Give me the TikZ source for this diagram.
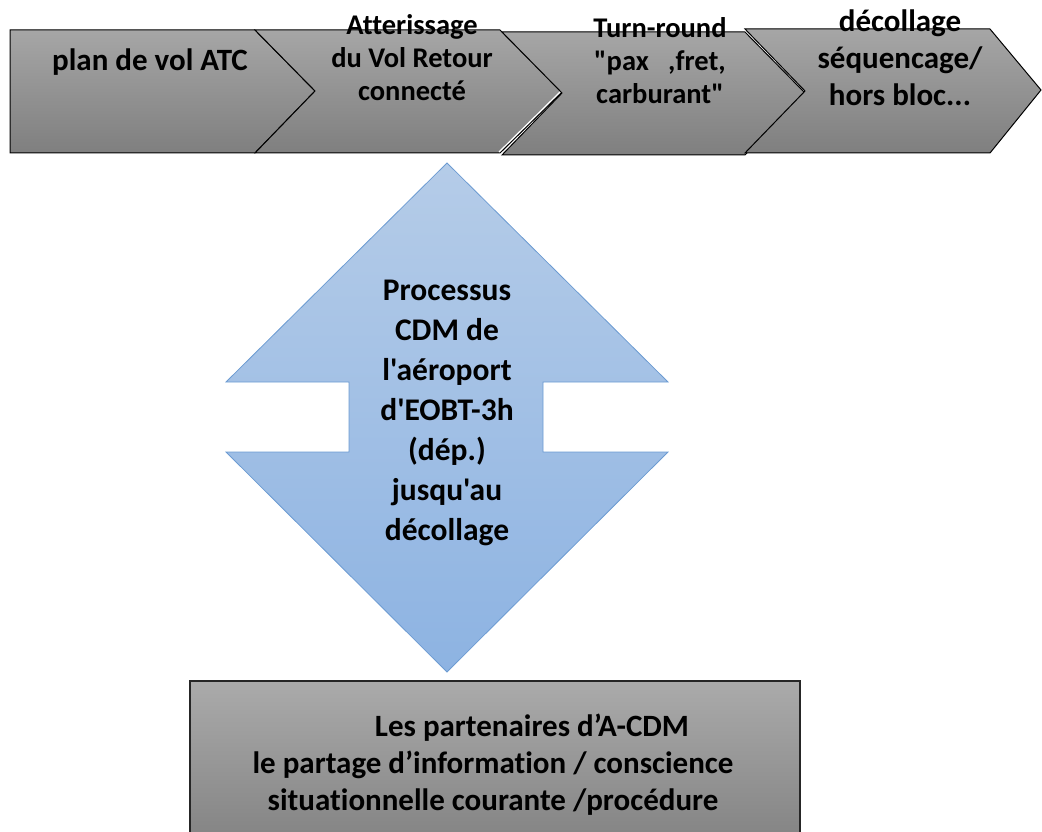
\documentclass[tikz,border=0pt]{standalone}
\usepackage{fontspec}
\setmainfont{Carlito}[Ligatures={TeXOff,CommonOff}]
\begin{document}
\begin{tikzpicture}[x=1pt,y=-1pt,
  chevron/.style={draw=black, line width=1pt, top color=graytop, bottom color=graybot},
  arrowshape/.style={draw=bluedge, line width=0.8pt, top color=bluetop, bottom color=bluebot},
  stagetext/.style={align=center, font=\bfseries\fontsize{28.5}{33}\selectfont, inner sep=0pt},
  bigtext/.style={align=center, font=\bfseries\fontsize{31}{37}\selectfont, inner sep=0pt},
  midtext/.style={align=center, font=\bfseries\fontsize{31.5}{40}\selectfont, inner sep=0pt}]
\definecolor{graytop}{HTML}{A6A6A6}
\definecolor{graybot}{HTML}{7F7F7F}
\definecolor{bluetop}{HTML}{B5CCE8}
\definecolor{bluebot}{HTML}{8DB3E2}
\definecolor{bluedge}{HTML}{6C9BD2}
\useasboundingbox (0,0) rectangle (1042,832);
\clip (0,0) rectangle (1042,832);

% process chain along the top
\path[chevron] (10,30) -- (255,30) -- (315,91) -- (255,153) -- (10,153) -- cycle;
\path[chevron] (255,30) -- (500,30) -- (562,92) -- (500,153) -- (255,153) -- (315,91) -- cycle;
\path[chevron] (502,32) -- (745,32) -- (805,93) -- (745,155) -- (502,155) -- (562,93) -- cycle;
\draw[white, line width=1.2pt] (499,152) -- (560,92);
\path[chevron] (745,29) -- (990,29) -- (1041,90) -- (990,153) -- (745,153) -- (805,91) -- cycle;

\node[bigtext] (plan) at (150,62) {plan de vol ATC};
\node[stagetext] (atter) at (412,58) {Atterissage\\du Vol Retour\\connecté};
\node[stagetext] (turn) at (660,61) {Turn-round\\"pax\ \ \ ,fret,\\carburant"};
\node[bigtext] (decol) at (900,58) {décollage\\séquencage/\\hors bloc...};

% double-headed vertical arrow
\path[arrowshape] (447,163) -- (668,382) -- (543,382) -- (543,452) -- (668,452)
  -- (447,672) -- (226,452) -- (349,452) -- (349,382) -- (226,382) -- cycle;
\node[midtext] (cdm) at (447,413) {Processus\\CDM de\\l'aéroport\\d'EOBT-3h\\(dép.)\\jusqu'au\\décollage};

% partners box
\path[draw=black!85, line width=1.5pt, top color=graytop!95!white, bottom color=graybot]
  (190,681) rectangle (800,860);
\node[bigtext] (partners) at (493,765) {\hspace*{78pt}Les partenaires d’A-CDM\\le partage d’information / conscience\\situationnelle courante /procédure};
\end{tikzpicture}
\end{document}
